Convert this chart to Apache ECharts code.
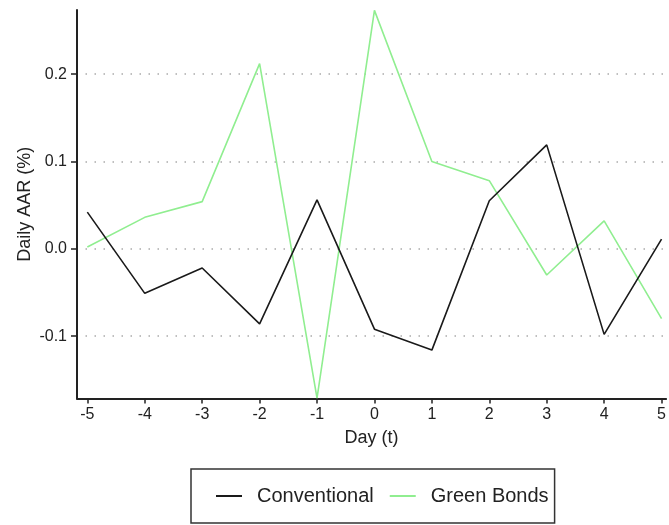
<!DOCTYPE html>
<html>
<head>
<meta charset="utf-8">
<script src="https://cdn.jsdelivr.net/npm/echarts@6/dist/echarts.min.js"></script>
<style>
html,body{margin:0;padding:0;background:#fff;}
#chart{width:669px;height:525px;}
</style>
</head>
<body>
<div id="chart"></div>
<script>
const days = [-5, -4, -3, -2, -1, 0, 1, 2, 3, 4, 5];
const conventional = [0.042, -0.051, -0.022, -0.086, 0.056, -0.092, -0.116, 0.055, 0.119, -0.098, 0.011];
const greenBonds = [0.002, 0.036, 0.054, 0.212, -0.171, 0.273, 0.100, 0.078, -0.030, 0.032, -0.080];
const xTicks = [-5, -4, -3, -2, -1, 0, 1, 2, 3, 4, 5];
const yTicks = [-0.1, 0.0, 0.1, 0.2];
const yTickLabels = ['-0.1', '0.0', '0.1', '0.2'];

const FONT = '"Liberation Sans", Arial, Helvetica, sans-serif';
const chart = echarts.init(document.getElementById('chart'), null, {renderer: 'canvas'});
const option = {
  backgroundColor: '#fff',
  animation: false,
  textStyle: {fontFamily: FONT},
  grid: {left: 77, right: 0, top: 10, bottom: 126.5, containLabel: false},
  xAxis: {
    type: 'value',
    min: -5.18, max: 5.08,
    name: 'Day (t)',
    nameLocation: 'middle',
    nameGap: 31,
    nameMoveOverlap: false,
    nameTextStyle: {fontSize: 18, color: '#222', fontFamily: FONT},
    axisLine: {show: true, onZero: false, lineStyle: {color: '#222', width: 2}},
    axisTick: {show: true, customValues: xTicks, length: 5, lineStyle: {color: '#222', width: 1.5}},
    axisLabel: {customValues: xTicks, fontSize: 16, color: '#222', margin: 8, fontFamily: FONT,
      formatter: v => String(v)},
    splitLine: {show: false}
  },
  yAxis: {
    type: 'value',
    min: -0.1714, max: 0.2734,
    name: 'Daily AAR (%)',
    nameLocation: 'middle',
    nameGap: 43,
    nameMoveOverlap: false,
    nameTextStyle: {fontSize: 18, color: '#222', fontFamily: FONT},
    axisLine: {show: true, onZero: false, lineStyle: {color: '#222', width: 2}},
    axisTick: {show: true, customValues: yTicks, length: 6, lineStyle: {color: '#222', width: 1.5}},
    axisLabel: {customValues: yTicks, fontSize: 16, color: '#222', margin: 10, fontFamily: FONT,
      formatter: v => yTickLabels[yTicks.findIndex(t => Math.abs(t - v) < 1e-9)] ?? v.toFixed(1)},
    splitLine: {show: true, lineStyle: {color: '#aaa', width: 1.5, type: [1.5, 7.5], dashOffset: 0.5}}
  },
  legend: {
    show: true,
    left: 191, top: 469,
    padding: [17, 6, 17, 25],
    borderColor: '#333', borderWidth: 1.5,
    itemWidth: 26, itemHeight: 2, itemGap: 16,
    icon: 'rect',
    textStyle: {fontSize: 20, color: '#222', fontFamily: FONT, padding: [0, 0, 0, 10], lineHeight: 20},
    data: ['Conventional', 'Green Bonds']
  },
  series: [
    {
      name: 'Conventional', type: 'line', symbol: 'none',
      data: days.map((d, i) => [d, conventional[i]]),
      lineStyle: {color: '#1a1a1a', width: 1.6},
      itemStyle: {color: '#1a1a1a'},
      z: 3
    },
    {
      name: 'Green Bonds', type: 'line', symbol: 'none',
      data: days.map((d, i) => [d, greenBonds[i]]),
      lineStyle: {color: '#90ee90', width: 1.6},
      itemStyle: {color: '#90ee90'},
      z: 2
    }
  ]
};
chart.setOption(option);
</script>
</body>
</html>
